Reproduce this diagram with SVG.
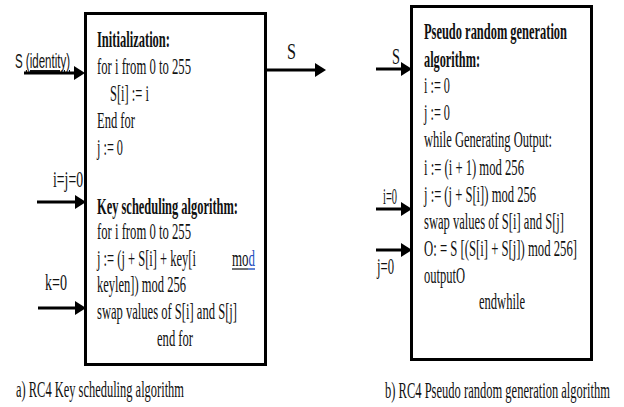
<svg xmlns="http://www.w3.org/2000/svg" width="624" height="407" viewBox="0 0 624 407">
  <style>
    .box { fill: #ffffff; stroke: #000000; stroke-width: 3; }
    .t { font-family: "Liberation Serif", "Times New Roman", serif; font-size: 23px; fill: #111111; }
    .b { font-weight: bold; }
    .lbl { font-family: "Liberation Sans", Arial, sans-serif; font-size: 21px; fill: #111111; }
    .wire { stroke: #000000; stroke-width: 3; fill: none; marker-end: url(#head); }
  </style>
  <defs>
    <marker id="head" markerUnits="userSpaceOnUse" viewBox="0 0 11 14" markerWidth="11" markerHeight="14" refX="1" refY="7" orient="auto">
      <path d="M0,0 L11,7 L0,14 z" fill="#000000"/>
    </marker>
  </defs>
  <rect width="624" height="407" fill="#ffffff"/>

  <!-- (a) key scheduling block -->
  <g id="ksa">
    <rect class="box" x="85.5" y="13.5" width="180" height="351"/>
    <text class="t b" x="97" y="47" textLength="73" lengthAdjust="spacingAndGlyphs">Initialization:</text>
    <text class="t" x="97" y="74" textLength="94" lengthAdjust="spacingAndGlyphs">for i from 0 to 255</text>
    <text class="t" x="110" y="101" textLength="39" lengthAdjust="spacingAndGlyphs">S[i] := i</text>
    <text class="t" x="97" y="128" textLength="38" lengthAdjust="spacingAndGlyphs">End for</text>
    <text class="t" x="97" y="155" textLength="26" lengthAdjust="spacingAndGlyphs">j := 0</text>
    <text class="t b" x="97" y="214" textLength="141" lengthAdjust="spacingAndGlyphs">Key scheduling algorithm:</text>
    <text class="t" x="97" y="239" textLength="94" lengthAdjust="spacingAndGlyphs">for i from 0 to 255</text>
    <text class="t" x="97" y="266" textLength="99" lengthAdjust="spacingAndGlyphs">j := (j + S[i] + key[i</text>
    <text class="t" x="232" y="266" textLength="23" lengthAdjust="spacingAndGlyphs">mo<tspan style="fill:#1f4fc0">d</tspan></text>
    <line x1="232" y1="269" x2="248" y2="269" stroke="#111111" stroke-width="1.2"/>
    <line x1="248" y1="269" x2="255" y2="269" stroke="#1f4fc0" stroke-width="1.4"/>
    <text class="t" x="97" y="292" textLength="89" lengthAdjust="spacingAndGlyphs">keylen]) mod 256</text>
    <text class="t" x="97" y="319" textLength="140" lengthAdjust="spacingAndGlyphs">swap values of S[i] and S[j]</text>
    <text class="t" x="157" y="346" textLength="36" lengthAdjust="spacingAndGlyphs">end for</text>
  </g>

  <!-- (b) pseudo random generation block -->
  <g id="prga">
    <rect class="box" x="411.5" y="6.5" width="180" height="353"/>
    <text class="t b" x="424" y="39" textLength="143" lengthAdjust="spacingAndGlyphs">Pseudo random generation</text>
    <text class="t b" x="424" y="67" textLength="56" lengthAdjust="spacingAndGlyphs">algorithm:</text>
    <text class="t" x="424" y="93" textLength="26" lengthAdjust="spacingAndGlyphs">i := 0</text>
    <text class="t" x="424" y="120" textLength="26" lengthAdjust="spacingAndGlyphs">j := 0</text>
    <text class="t" x="424" y="147" textLength="128" lengthAdjust="spacingAndGlyphs">while Generating Output:</text>
    <text class="t" x="424" y="175" textLength="100" lengthAdjust="spacingAndGlyphs">i := (i + 1) mod 256</text>
    <text class="t" x="424" y="202" textLength="112" lengthAdjust="spacingAndGlyphs">j := (j + S[i]) mod 256</text>
    <text class="t" x="424" y="229" textLength="140" lengthAdjust="spacingAndGlyphs">swap values of S[i] and S[j]</text>
    <text class="t" x="424" y="256" textLength="153" lengthAdjust="spacingAndGlyphs">O: = S [(S[i] + S[j]) mod  256]</text>
    <text class="t" x="424" y="283" textLength="41" lengthAdjust="spacingAndGlyphs">outputO</text>
    <text class="t" x="479" y="309" textLength="46" lengthAdjust="spacingAndGlyphs">endwhile</text>
  </g>

  <!-- input / output labels -->
  <g id="labels">
    <text class="lbl" x="15" y="68" textLength="55" lengthAdjust="spacingAndGlyphs">S <tspan text-decoration="underline">(identity)</tspan></text>
    <text class="t" x="287" y="59" textLength="9" lengthAdjust="spacingAndGlyphs">S</text>
    <text class="t" x="53" y="187" textLength="30" lengthAdjust="spacingAndGlyphs">i=j=0</text>
    <text class="t" x="45" y="290" textLength="22" lengthAdjust="spacingAndGlyphs">k=0</text>
    <text class="t" x="392" y="64" textLength="8" lengthAdjust="spacingAndGlyphs">S</text>
    <text class="t" x="383" y="204" textLength="14" lengthAdjust="spacingAndGlyphs">i=0</text>
    <text class="t" x="377" y="274" textLength="17" lengthAdjust="spacingAndGlyphs">j=0</text>
  </g>

  <!-- connectors -->
  <g id="connectors">
    <line class="wire" x1="24" y1="73" x2="75" y2="73"/>
    <line class="wire" x1="266" y1="70" x2="316" y2="70"/>
    <line class="wire" x1="37" y1="202" x2="76" y2="202"/>
    <line class="wire" x1="38" y1="308" x2="76" y2="308"/>
    <line class="wire" x1="376" y1="69" x2="402" y2="69"/>
    <line class="wire" x1="376" y1="209" x2="402" y2="209"/>
    <line class="wire" x1="376" y1="250" x2="402" y2="250"/>
  </g>

  <!-- captions -->
  <g id="captions">
    <text class="t" x="16" y="397" textLength="168" lengthAdjust="spacingAndGlyphs">a) RC4 Key scheduling algorithm</text>
    <text class="t" x="385" y="398" textLength="225" lengthAdjust="spacingAndGlyphs">b) RC4 Pseudo random generation algorithm</text>
  </g>
</svg>
